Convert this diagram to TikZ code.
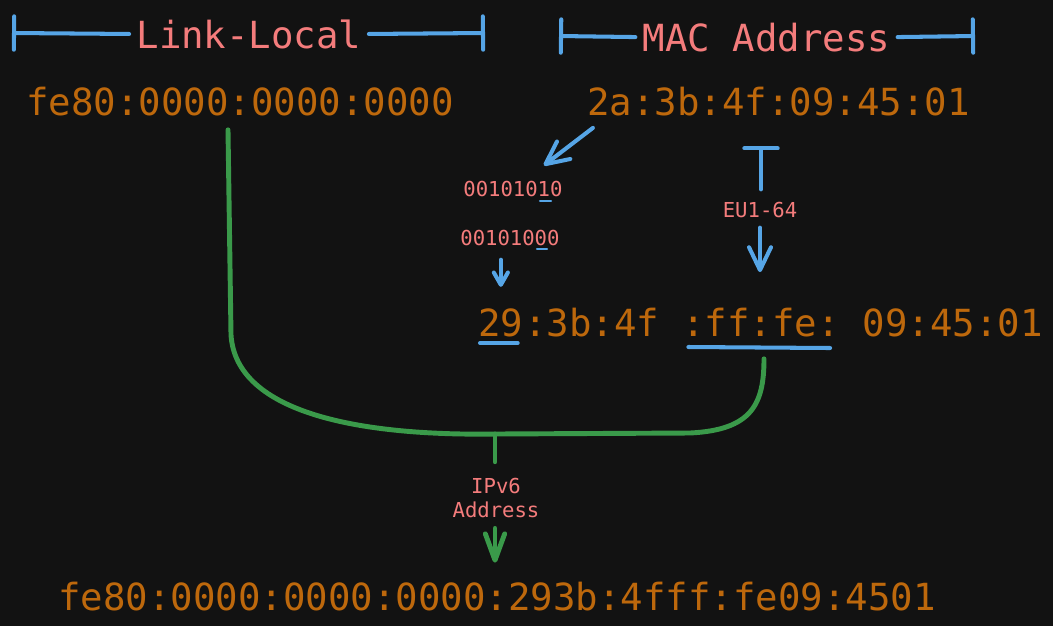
\documentclass[tikz,border=0pt]{standalone}
\usepackage{fontspec}
\usepackage{xcolor}
\usepackage{tikz}
\usetikzlibrary{arrows.meta}
\usetikzlibrary{positioning}
\newfontfamily\codefont{DejaVu Sans Mono}
\definecolor{bgc}{HTML}{121212}
\definecolor{hexc}{HTML}{BD680C}
\definecolor{tagc}{HTML}{F47C7C}
\definecolor{linec}{HTML}{56A5E6}
\definecolor{joinc}{HTML}{3A9A4A}
\tikzset{hex/.style={text=hexc, inner sep=0pt, font=\codefont\fontsize{21.27pt}{25pt}\selectfont}}
\tikzset{tag/.style={text=tagc, inner ysep=0pt, inner xsep=4pt, font=\codefont\fontsize{21.27pt}{25pt}\selectfont}}
\tikzset{note/.style={text=tagc, inner sep=0pt, font=\codefont\fontsize{11.72pt}{14pt}\selectfont}}
\tikzset{bline/.style={draw=linec, line width=2.3pt, line cap=round, line join=round}}
\tikzset{uline/.style={draw=linec, line width=1.2pt, line cap=round}}
\tikzset{gline/.style={draw=joinc, line width=2.8pt, line cap=round, line join=round}}
\tikzset{tip/.style={-{Straight Barb[length=13pt,width=12.5pt,round]}}}
\tikzset{smalltip/.style={-{Straight Barb[length=7pt,width=8pt,round]}}}
\tikzset{gtip/.style={-{Straight Barb[length=15pt,width=11pt,round]}}}
\tikzset{barend/.style={{Bar[width=19pt,round]}-}}
\tikzset{endbar/.style={-{Bar[width=19pt,round]}}}

\begin{document}
\begin{tikzpicture}[x=0.02cm, y=-0.02cm]
\fill[bgc] (0,0) rectangle (1053,626);
\node[tag, anchor=base] (lk) at (249,48) {Link-Local};
\node[tag, anchor=base] (mc) at (766.5,51) {MAC Address};
\coordinate (lkL) at (12,33);
\coordinate (lkR) at (485,33);
\coordinate (mcL) at (559,36);
\coordinate (mcR) at (975,36);
\draw[bline, barend] (lkL) -- (lk.west);
\draw[bline, endbar] (lk.east) -- (lkR);
\draw[bline, barend] (mcL) -- (mc.west);
\draw[bline, endbar] (mc.east) -- (mcR);
\node[hex, anchor=base] (ll) at (240,115) {fe80:0000:0000:0000};
\node[hex, anchor=base] (mac) at (778.5,115) {2a:3b:4f:09:45:01};
\node[note, anchor=base west] (b1) at (463,196) {00101010};
\node[note, anchor=base west] (b2) at (460,245) {00101000};
\node[note, anchor=base] (eu) at (760,217) {EU1-64};
\node[hex, anchor=base west] (m29) at (478,336) {29};
\node[hex, base right=0pt of m29] (m3b) {:3b:4f};
\node[hex, base right=0.45cm of m3b] (ffe) {:ff:fe:};
\node[hex, base right=0.45cm of ffe] (m09) {09:45:01};
\node[note, align=center] (ip) at (496,498) {IPv6\\Address};
\node[hex, anchor=base] (res) at (497,610) {fe80:0000:0000:0000:293b:4fff:fe09:4501};
\draw[bline, tip] ([shift={(6,12)}]mac.south west) -- ([shift={(-19,-15)}]b1.north east);
\draw[uline] ([shift={(77,5)}]b1.base west) -- ++(11,0);
\draw[uline] ([shift={(77,4)}]b2.base west) -- ++(10,0);
\draw[bline, smalltip, shorten <=8pt, shorten >=12pt] (b2.south -| m29.north) -- (m29.north);
\draw[bline, barend] ([shift={(1,-55)}]eu.north) -- ([shift={(1,-12)}]eu.north);
\draw[bline, tip, shorten <=5.7pt, shorten >=20pt] (eu.south) -- (eu.south |- ffe.north);
\draw[bline] ([shift={(2,7)}]m29.base west) -- ([shift={(-6,7)}]m29.base east);
\draw[bline] ([shift={(6.5,11)}]ffe.base west) -- ([shift={(-10,12)}]ffe.base east);
\coordinate (j) at (495,434);
\draw[gline] ([shift={(-12,14)}]ll.south) -- ++(3,205) .. controls +(5,80) and +(-130,2) .. (j) -- ++(195,-1) .. controls +(62,-3) and +(0,45) .. ([shift={(3,22)}]ffe.south);
\draw[gline, shorten >=9pt] (j) -- (j |- ip.north);
\draw[gline, gtip, shorten <=5.7pt, shorten >=10.6pt] (ip.south -| j) -- (j |- res.north);
\end{tikzpicture}
\end{document}
